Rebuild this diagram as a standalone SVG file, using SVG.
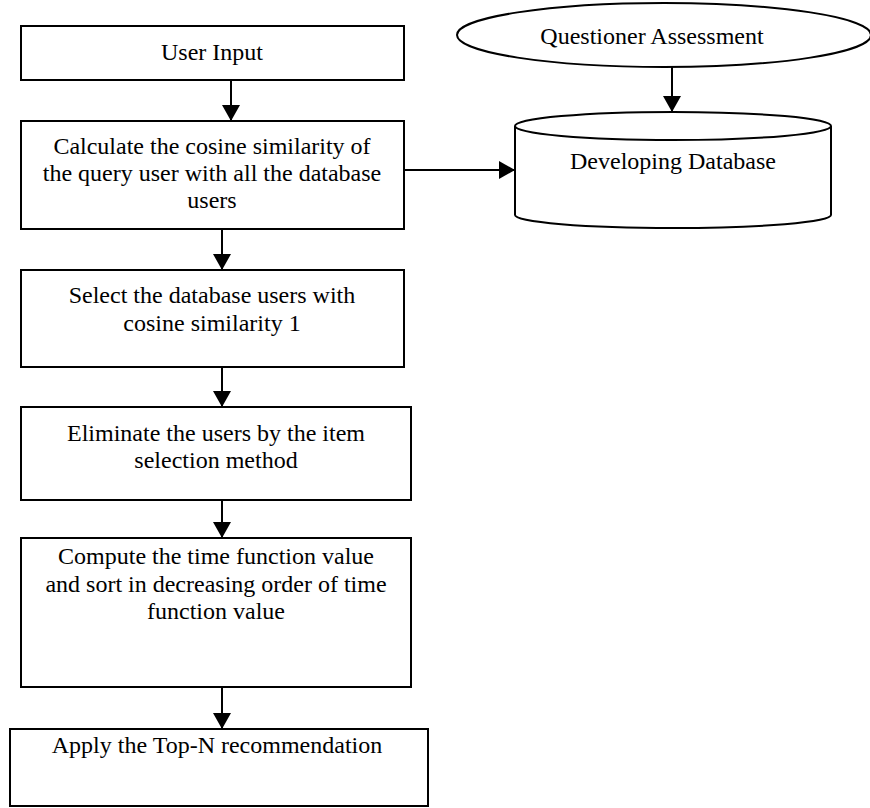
<svg xmlns="http://www.w3.org/2000/svg" width="870" height="808" viewBox="0 0 870 808">
<defs>
<style>
.box{fill:#fff;stroke:#000;stroke-width:2}
.t{font-family:"Liberation Serif","Times New Roman",serif;font-size:24px;fill:#000;text-anchor:middle}
.c{stroke:#000;stroke-width:2;fill:none}
</style>
<marker id="ah" viewBox="0 0 16 18" refX="16" refY="9" markerWidth="16" markerHeight="18" markerUnits="userSpaceOnUse" orient="auto">
<path d="M0,0 L16,9 L0,18 Z" fill="#000"/>
</marker>
</defs>
<rect width="870" height="808" fill="#fff"/>
<g id="n1">
<rect class="box" x="21" y="26" width="383" height="54"/>
<text class="t" x="212" y="60">User Input</text>
</g>
<g id="n2">
<rect class="box" x="21" y="121" width="383" height="108"/>
<text class="t" x="212" y="154">Calculate the cosine similarity of</text>
<text class="t" x="212" y="181">the query user with all the database</text>
<text class="t" x="212" y="208">users</text>
</g>
<g id="n3">
<rect class="box" x="21" y="270" width="383" height="97"/>
<text class="t" x="212" y="303">Select the database users with</text>
<text class="t" x="212" y="331">cosine similarity 1</text>
</g>
<g id="n4">
<rect class="box" x="21" y="407" width="390" height="93"/>
<text class="t" x="216" y="441">Eliminate the users by the item</text>
<text class="t" x="216" y="468">selection method</text>
</g>
<g id="n5">
<rect class="box" x="21" y="538" width="390" height="149"/>
<text class="t" x="216" y="564">Compute the time function value</text>
<text class="t" x="216" y="592">and sort in decreasing order of time</text>
<text class="t" x="216" y="619">function value</text>
</g>
<g id="n6">
<rect class="box" x="10" y="729" width="418" height="77"/>
<text class="t" x="217" y="753">Apply the Top-N recommendation</text>
</g>
<g id="n7">
<ellipse class="box" cx="664" cy="35" rx="207" ry="32"/>
<text class="t" x="652" y="44">Questioner Assessment</text>
</g>
<g id="n8">
<path class="box" d="M515,126 L515,215 A158,13 0 0 0 831,215 L831,126"/>
<ellipse class="box" cx="673" cy="126" rx="158" ry="14"/>
<text class="t" x="673" y="169">Developing Database</text>
</g>
<g id="connectors">
<line class="c" x1="231" y1="80" x2="231" y2="121" marker-end="url(#ah)"/>
<line class="c" x1="222" y1="229" x2="222" y2="270" marker-end="url(#ah)"/>
<line class="c" x1="222" y1="367" x2="222" y2="407" marker-end="url(#ah)"/>
<line class="c" x1="222" y1="500" x2="222" y2="538" marker-end="url(#ah)"/>
<line class="c" x1="222" y1="687" x2="222" y2="729" marker-end="url(#ah)"/>
<line class="c" x1="404" y1="170" x2="515" y2="170" marker-end="url(#ah)"/>
<line class="c" x1="672" y1="67" x2="672" y2="112" marker-end="url(#ah)"/>
</g>
</svg>
